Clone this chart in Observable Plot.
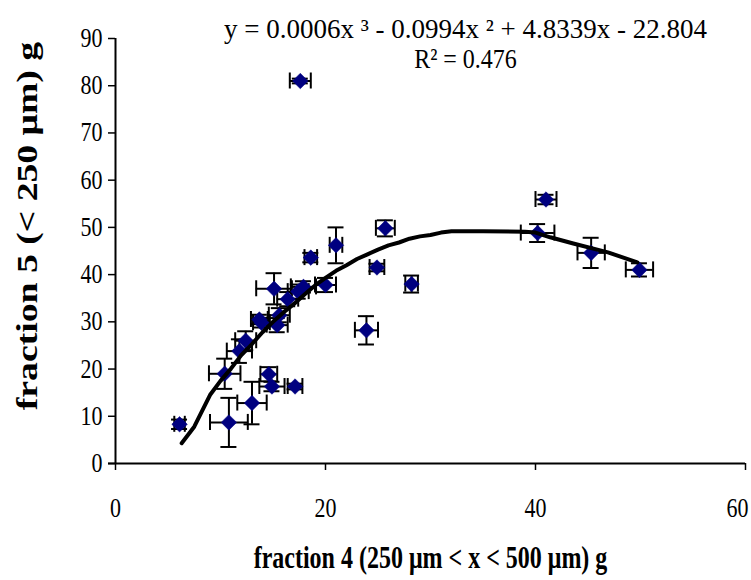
<!DOCTYPE html>
<html>
<head>
<meta charset="utf-8">
<script src="https://cdn.jsdelivr.net/npm/d3@7"></script>
<script src="https://cdn.jsdelivr.net/npm/@observablehq/plot@0.6"></script>
<style>
  html, body { margin: 0; padding: 0; background: #fff; }
</style>
</head>
<body>
<div id="chart"></div>
<script>
// fraction 4 (x), fraction 5 (y), error half-widths
const fx = [6.1, 10.8, 13.0, 10.4, 11.8, 12.4, 13.7, 13.9, 15.4, 15.6, 15.1, 16.4, 17.4, 17.9, 20.0, 18.6, 21.0, 24.9, 25.7, 28.2, 23.9, 14.6, 14.9, 17.1, 17.6, 40.2, 41.0, 45.3, 49.9];
const fy = [8.3, 8.7, 12.8, 19.0, 23.8, 26.0, 30.5, 29.8, 29.3, 31.4, 37.0, 34.8, 36.4, 37.4, 37.8, 43.6, 46.2, 41.5, 49.8, 38.0, 28.2, 18.9, 16.3, 16.3, 81.0, 48.8, 55.9, 44.6, 41.0];
const ex = [0.5, 1.8, 1.4, 1.5, 1.2, 1.0, 0.8, 0.8, 1.0, 1.0, 1.7, 1.0, 1.0, 1.2, 1.0, 0.6, 0.6, 0.7, 0.9, 0.6, 1.1, 0.8, 1.2, 0.7, 1.0, 1.6, 1.0, 1.3, 1.3];
const ey = [1.0, 5.2, 4.5, 3.2, 2.5, 2.0, 1.0, 1.0, 1.5, 1.5, 3.3, 1.5, 1.5, 1.2, 1.5, 1.0, 3.8, 0.8, 1.7, 1.8, 3.0, 1.5, 1.0, 0.6, 0.5, 1.9, 1.0, 3.2, 1.4];

// trend line
const trendX = [6.3, 7.5, 9.0, 10.0, 11.0, 12.0, 13.0, 14.0, 15.0, 16.0, 17.0, 18.0, 19.0, 20.0, 21.0, 22.0, 23.0, 24.0, 25.0, 26.0, 27.0, 28.0, 29.0, 30.0, 31.0, 32.0, 35.0, 39.0, 40.0, 41.4, 43.6, 46.9, 49.7];
const trendY = [4.3, 7.8, 14.5, 17.5, 20.1, 23.0, 25.3, 27.8, 30.0, 32.0, 33.8, 35.8, 37.7, 39.3, 40.8, 42.0, 43.3, 44.3, 45.3, 46.2, 46.8, 47.6, 48.1, 48.4, 48.9, 49.2, 49.2, 49.1, 48.9, 47.9, 46.6, 44.7, 42.6];

const xTicks = [0, 20, 40, 60];
const yTicks = [0, 10, 20, 30, 40, 50, 60, 70, 80, 90];

const eqLine1 = "y = 0.0006x \u00B3 - 0.0994x \u00B2 + 4.8339x - 22.804";
const eqLine2 = "R\u00B2 = 0.476";
const xTitle = "fraction 4 (250 \u03BCm < x < 500 \u03BCm) g";
const yTitle = "fraction 5 (< 250 \u03BCm) g";

const pts = fx.map((x, i) => ({x, y: fy[i], ex: ex[i], ey: ey[i]}));
const trend = trendX.map((x, i) => ({x, y: trendY[i]}));

const CAP = 8;
const chart = Plot.plot({
  width: 751,
  height: 580,
  marginLeft: 115,
  marginRight: 6,
  marginTop: 38,
  marginBottom: 117,
  style: {fontFamily: "'Liberation Serif', 'Times New Roman', serif", background: "#fff", color: "#000", fontSize: "22px", overflow: "visible"},
  x: {domain: [0, 60]},
  y: {domain: [0, 90]},
  marks: [
    // horizontal error bars
    Plot.ruleY(pts, {y: "y", x1: d => d.x - d.ex, x2: d => d.x + d.ex, stroke: "#000", strokeWidth: 2}),
    Plot.ruleX(pts, {x: d => d.x - d.ex, y1: "y", y2: "y", insetTop: -CAP, insetBottom: -CAP, stroke: "#000", strokeWidth: 2}),
    Plot.ruleX(pts, {x: d => d.x + d.ex, y1: "y", y2: "y", insetTop: -CAP, insetBottom: -CAP, stroke: "#000", strokeWidth: 2}),
    // vertical error bars
    Plot.ruleX(pts, {x: "x", y1: d => d.y - d.ey, y2: d => d.y + d.ey, stroke: "#000", strokeWidth: 2}),
    Plot.ruleY(pts, {y: d => d.y - d.ey, x1: "x", x2: "x", insetLeft: -CAP, insetRight: -CAP, stroke: "#000", strokeWidth: 2}),
    Plot.ruleY(pts, {y: d => d.y + d.ey, x1: "x", x2: "x", insetLeft: -CAP, insetRight: -CAP, stroke: "#000", strokeWidth: 2}),
    // markers
    Plot.dot(pts, {x: "x", y: "y", symbol: "diamond2", r: 7, fill: "#000080", stroke: "#000080", strokeWidth: 0.5}),
    // trend line
    Plot.line(trend, {x: "x", y: "y", stroke: "#000", strokeWidth: 4, curve: "linear"}),
    // axes
    Plot.ruleX([0], {stroke: "#000", strokeWidth: 2}),
    Plot.ruleY([0], {stroke: "#000", strokeWidth: 2, insetLeft: -7}),
    Plot.axisY({ticks: yTicks, tickSize: 7, tickPadding: 6, label: null, fontSize: 22, stroke: "#000", strokeWidth: 1.5}),
    Plot.axisX({ticks: xTicks, tickSize: 7, tickPadding: 28, label: null, fontSize: 22, stroke: "#000", strokeWidth: 1.5}),
    // titles and equation
    Plot.text([xTitle], {frameAnchor: "bottom", lineAnchor: "middle", dx: 0, dy: 94, fontSize: 24, fontWeight: "bold", ariaDescription: "xtitle"}),
    Plot.text([yTitle], {frameAnchor: "left", textAnchor: "middle", lineAnchor: "middle", dx: -88, dy: -25, rotate: -90, fontSize: 29, fontWeight: "bold", ariaDescription: "ytitle"}),
    Plot.text([eqLine1], {frameAnchor: "top", lineAnchor: "middle", dx: 35, dy: -9, fontSize: 27, ariaDescription: "eq1"}),
    Plot.text([eqLine2], {frameAnchor: "top", lineAnchor: "middle", dx: 35, dy: 21, fontSize: 24, ariaDescription: "eq2"})
  ]
});

function stretch(sel, sx, sy) {
  chart.querySelectorAll(sel).forEach(t => {
    t.setAttribute("transform", (t.getAttribute("transform") || "") + ` scale(${sx},${sy})`);
  });
}
stretch('g[aria-label="y-axis tick label"] text', 1, 1.2);
stretch('g[aria-label="x-axis tick label"] text', 1, 1.2);
stretch('g[aria-description="xtitle"] text', 1, 1.35);
stretch('g[aria-description="ytitle"] text', 1.3, 1);
stretch('g[aria-description="eq2"] text', 1, 1.15);
// keep the last x tick label inside the frame, as in the reference
const xl = chart.querySelectorAll('g[aria-label="x-axis tick label"] text');
if (xl.length) {
  const last = xl[xl.length - 1];
  last.setAttribute("text-anchor", "end");
  last.setAttribute("dx", "3");
}

document.getElementById("chart").appendChild(chart);
</script>
</body>
</html>
